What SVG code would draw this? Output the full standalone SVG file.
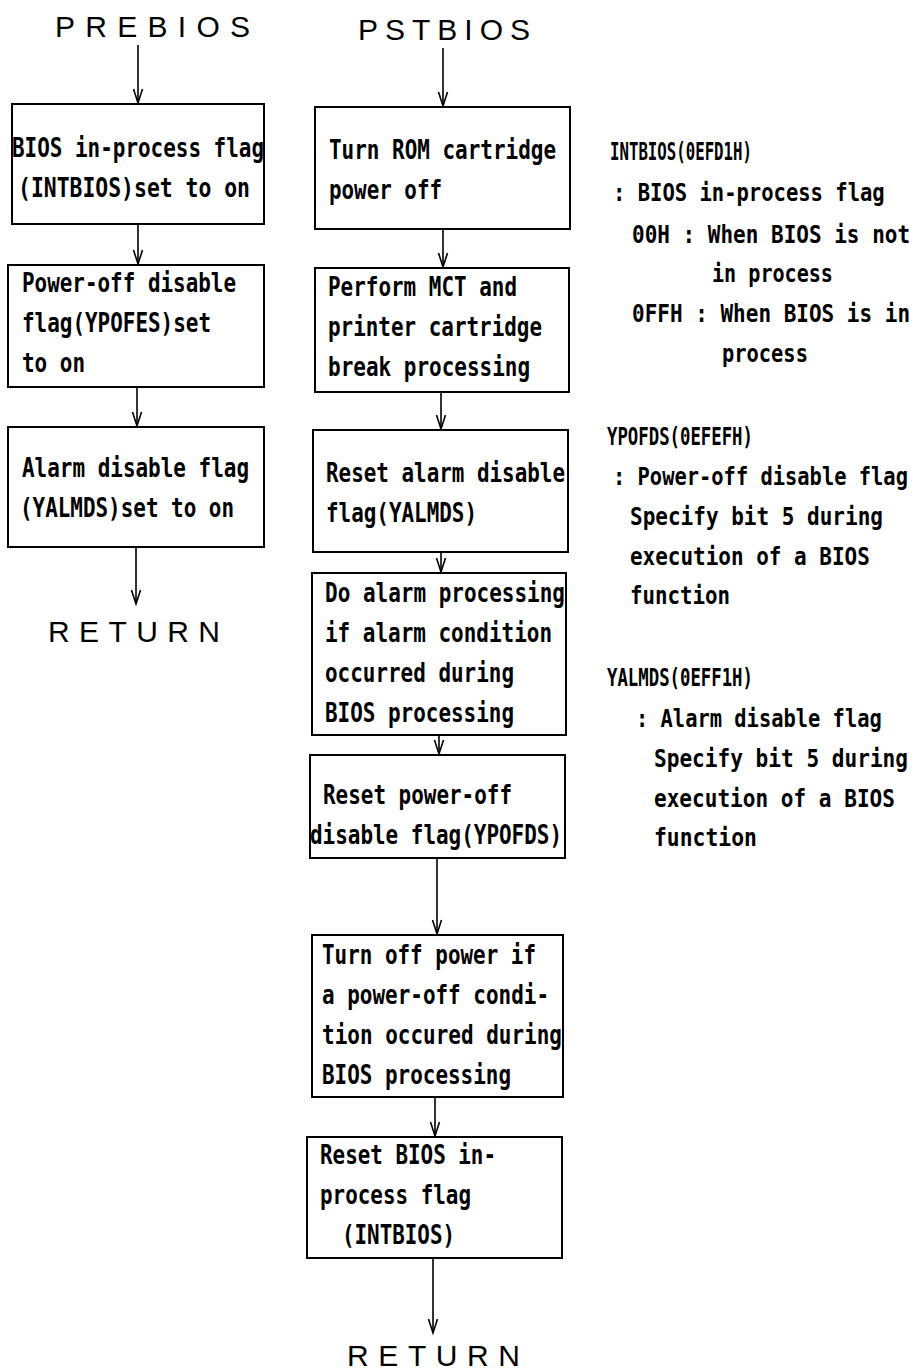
<svg xmlns="http://www.w3.org/2000/svg" width="916" height="1371" viewBox="0 0 916 1371">
<style>
.bg{fill:#fff}
.box{fill:none;stroke:#000;stroke-width:2}
.t{font-family:"DejaVu Sans Mono","Liberation Mono",monospace;font-weight:bold;font-size:26px;fill:#000}
.n{font-size:25px}
.h{font-family:"Liberation Sans",Arial,sans-serif;font-size:30px;fill:#000}
.conn{fill:none;stroke:#000;stroke-width:1.6;marker-end:url(#ah)}
</style>
<defs>
<marker id="ah" markerUnits="userSpaceOnUse" markerWidth="16" markerHeight="12" refX="14" refY="6" orient="auto" overflow="visible">
<path d="M0,1.5 L14,6 L0,10.5" fill="none" stroke="#000" stroke-width="1.6"/>
</marker>
</defs>
<rect class="bg" x="0" y="0" width="916" height="1371"/>

<g id="titles">
<text class="h" x="55" y="37" textLength="195" lengthAdjust="spacing">PREBIOS</text>
<text class="h" x="358" y="40" textLength="172" lengthAdjust="spacing">PSTBIOS</text>
<text class="h" x="48" y="642" textLength="172" lengthAdjust="spacing">RETURN</text>
<text class="h" x="347" y="1366" textLength="173" lengthAdjust="spacing">RETURN</text>
</g>

<g id="connectors">
<line class="conn" x1="138" y1="45" x2="138" y2="103"/>
<line class="conn" x1="138" y1="224" x2="138" y2="264"/>
<line class="conn" x1="137" y1="387" x2="137" y2="426"/>
<line class="conn" x1="136" y1="547" x2="136" y2="604"/>
<line class="conn" x1="443" y1="48" x2="443" y2="106"/>
<line class="conn" x1="443" y1="229" x2="443" y2="267"/>
<line class="conn" x1="441" y1="392" x2="441" y2="429"/>
<line class="conn" x1="441" y1="552" x2="441" y2="572"/>
<line class="conn" x1="439" y1="735" x2="439" y2="754"/>
<line class="conn" x1="437" y1="858" x2="437" y2="934"/>
<line class="conn" x1="435" y1="1097" x2="435" y2="1136"/>
<line class="conn" x1="433" y1="1258" x2="433" y2="1333"/>
</g>

<g id="p1">
<rect class="box" x="12" y="104" width="252" height="120"/>
<text class="t" x="12" y="157" textLength="252" lengthAdjust="spacingAndGlyphs">BIOS in-process flag</text>
<text class="t" x="18" y="197" textLength="232" lengthAdjust="spacingAndGlyphs">(INTBIOS)set to on</text>
</g>
<g id="p2">
<rect class="box" x="8" y="265" width="256" height="122"/>
<text class="t" x="22" y="292" textLength="214" lengthAdjust="spacingAndGlyphs">Power-off disable</text>
<text class="t" x="22" y="332" textLength="189" lengthAdjust="spacingAndGlyphs">flag(YPOFES)set</text>
<text class="t" x="22" y="372" textLength="63" lengthAdjust="spacingAndGlyphs">to on</text>
</g>
<g id="p3">
<rect class="box" x="8" y="427" width="256" height="120"/>
<text class="t" x="22" y="477" textLength="227" lengthAdjust="spacingAndGlyphs">Alarm disable flag</text>
<text class="t" x="20" y="517" textLength="214" lengthAdjust="spacingAndGlyphs">(YALMDS)set to on</text>
</g>

<g id="s1">
<rect class="box" x="315" y="107" width="255" height="122"/>
<text class="t" x="329" y="159" textLength="227" lengthAdjust="spacingAndGlyphs">Turn ROM cartridge</text>
<text class="t" x="329" y="199" textLength="113" lengthAdjust="spacingAndGlyphs">power off</text>
</g>
<g id="s2">
<rect class="box" x="315" y="268" width="254" height="124"/>
<text class="t" x="328" y="296" textLength="189" lengthAdjust="spacingAndGlyphs">Perform MCT and</text>
<text class="t" x="328" y="336" textLength="214" lengthAdjust="spacingAndGlyphs">printer cartridge</text>
<text class="t" x="328" y="376" textLength="202" lengthAdjust="spacingAndGlyphs">break processing</text>
</g>
<g id="s3">
<rect class="box" x="313" y="430" width="255" height="122"/>
<text class="t" x="326" y="482" textLength="239" lengthAdjust="spacingAndGlyphs">Reset alarm disable</text>
<text class="t" x="326" y="522" textLength="151" lengthAdjust="spacingAndGlyphs">flag(YALMDS)</text>
</g>
<g id="s4">
<rect class="box" x="312" y="573" width="254" height="162"/>
<text class="t" x="325" y="602" textLength="240" lengthAdjust="spacingAndGlyphs">Do alarm processing</text>
<text class="t" x="325" y="642" textLength="227" lengthAdjust="spacingAndGlyphs">if alarm condition</text>
<text class="t" x="325" y="682" textLength="189" lengthAdjust="spacingAndGlyphs">occurred during</text>
<text class="t" x="325" y="722" textLength="189" lengthAdjust="spacingAndGlyphs">BIOS processing</text>
</g>
<g id="s5">
<rect class="box" x="310" y="755" width="255" height="103"/>
<text class="t" x="323" y="804" textLength="189" lengthAdjust="spacingAndGlyphs">Reset power-off</text>
<text class="t" x="310" y="844" textLength="252" lengthAdjust="spacingAndGlyphs">disable flag(YPOFDS)</text>
</g>
<g id="s6">
<rect class="box" x="312" y="935" width="251" height="162"/>
<text class="t" x="322" y="964" textLength="214" lengthAdjust="spacingAndGlyphs">Turn off power if</text>
<text class="t" x="322" y="1004" textLength="227" lengthAdjust="spacingAndGlyphs">a power-off condi-</text>
<text class="t" x="322" y="1044" textLength="240" lengthAdjust="spacingAndGlyphs">tion occured during</text>
<text class="t" x="322" y="1084" textLength="189" lengthAdjust="spacingAndGlyphs">BIOS processing</text>
</g>
<g id="s7">
<rect class="box" x="307" y="1137" width="255" height="121"/>
<text class="t" x="320" y="1164" textLength="176" lengthAdjust="spacingAndGlyphs">Reset BIOS in-</text>
<text class="t" x="320" y="1204" textLength="151" lengthAdjust="spacingAndGlyphs">process flag</text>
<text class="t" x="342" y="1244" textLength="113" lengthAdjust="spacingAndGlyphs">(INTBIOS)</text>
</g>

<g id="note-intbios">
<text class="t n" transform="matrix(0.629 0 0 1 610 160)">INTBIOS(0EFD1H)</text>
<text class="t n" transform="matrix(0.821 0 0 1 613 201)">: BIOS in-process flag</text>
<text class="t n" transform="matrix(0.840 0 0 1 632 243)">00H : When BIOS is not</text>
<text class="t n" transform="matrix(0.804 0 0 1 712 282)">in process</text>
<text class="t n" transform="matrix(0.840 0 0 1 632 322)">0FFH : When BIOS is in</text>
<text class="t n" transform="matrix(0.816 0 0 1 722 362)">process</text>
</g>
<g id="note-ypofds">
<text class="t n" transform="matrix(0.693 0 0 1 607 445)">YPOFDS(0EFEFH)</text>
<text class="t n" transform="matrix(0.817 0 0 1 613 485)">: Power-off disable flag</text>
<text class="t n" transform="matrix(0.841 0 0 1 630 525)">Specify bit 5 during</text>
<text class="t n" transform="matrix(0.839 0 0 1 630 565)">execution of a BIOS</text>
<text class="t n" transform="matrix(0.831 0 0 1 630 604)">function</text>
</g>
<g id="note-yalmds">
<text class="t n" transform="matrix(0.693 0 0 1 607 686)">YALMDS(0EFF1H)</text>
<text class="t n" transform="matrix(0.817 0 0 1 636 727)">: Alarm disable flag</text>
<text class="t n" transform="matrix(0.844 0 0 1 654 767)">Specify bit 5 during</text>
<text class="t n" transform="matrix(0.843 0 0 1 654 807)">execution of a BIOS</text>
<text class="t n" transform="matrix(0.855 0 0 1 654 846)">function</text>
</g>
</svg>
